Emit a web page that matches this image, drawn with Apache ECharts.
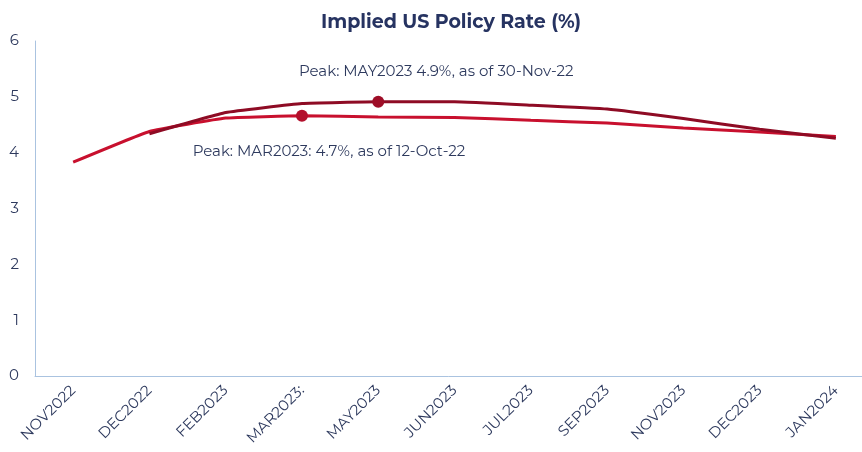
<!DOCTYPE html>
<html>
<head>
<meta charset="utf-8">
<script src="https://cdn.jsdelivr.net/npm/echarts@6/dist/echarts.min.js"></script>
<style>
  html, body { margin: 0; padding: 0; background: #fff; }
  #chart { width: 862px; height: 452px; }
</style>
</head>
<body>
<div id="chart"></div>
<script>
const categories = ['NOV2022', 'DEC2022', 'FEB2023', 'MAR2023:', 'MAY2023', 'JUN2023',
  'JUL2023', 'SEP2023', 'NOV2023', 'DEC2023', 'JAN2024'];

// implied policy rate as of 12-Oct-22
const asOfOct = [3.83, 4.38, 4.62, 4.66, 4.64, 4.63, 4.58, 4.53, 4.44, 4.37, 4.29];
// implied policy rate as of 30-Nov-22 (starts at DEC2022)
const asOfNov = [null, 4.34, 4.72, 4.88, 4.91, 4.91, 4.85, 4.78, 4.61, 4.42, 4.26];

const octPeakIdx = 3;
const novPeakIdx = 4;
const octPeakText = 'Peak: MAR2023: 4.7%, as of 12-Oct-22';
const novPeakText = 'Peak: MAY2023 4.9%, as of 30-Nov-22';

const textColor = '#2e3a5e';
const font = 'Montserrat, "Open Sans", sans-serif';

function withPeak(values, idx, text, color, offset) {
  return values.map((v, i) => {
    if (i !== idx) return v;
    return {
      value: v,
      symbol: 'circle',
      symbolSize: 12,
      itemStyle: { color: color },
      label: {
        show: true,
        formatter: text,
        position: 'inside',
        offset: offset,
        color: textColor,
        fontSize: 15,
        fontFamily: font
      }
    };
  });
}

const option = {
  animation: false,
  title: {
    text: 'Implied US Policy Rate (%)',
    left: 446,
    textAlign: 'center',
    top: 8,
    textStyle: { color: '#263361', fontSize: 19, fontWeight: 'bold', fontFamily: font }
  },
  // plot runs a little past the right edge so the last category sits near 836px
  grid: { left: 35, right: -12, top: 41, bottom: 76, containLabel: false, outerBoundsMode: 'none' },
  xAxis: {
    type: 'category',
    data: categories,
    boundaryGap: true,
    axisLine: { lineStyle: { color: '#aac3e0', width: 1 } },
    axisTick: { show: false },
    axisLabel: { rotate: 45, interval: 0, color: textColor, fontSize: 15, fontFamily: font, margin: 12 }
  },
  yAxis: {
    type: 'value',
    min: 0,
    max: 6,
    interval: 1,
    axisLine: { show: true, lineStyle: { color: '#aac3e0', width: 1 } },
    axisTick: { show: false },
    splitLine: { show: false },
    axisLabel: { color: textColor, fontSize: 15, fontFamily: font, margin: 16 }
  },
  series: [
    {
      name: '12-Oct-22',
      type: 'line',
      smooth: 0.1,
      showSymbol: true,
      symbol: 'none',
      lineStyle: { color: '#c8102e', width: 3 },
      itemStyle: { color: '#c8102e' },
      data: withPeak(asOfOct, octPeakIdx, octPeakText, '#b3102c', [27, 36])
    },
    {
      name: '30-Nov-22',
      type: 'line',
      smooth: 0.1,
      showSymbol: true,
      symbol: 'none',
      connectNulls: false,
      lineStyle: { color: '#8e0b24', width: 3 },
      itemStyle: { color: '#8e0b24' },
      data: withPeak(asOfNov, novPeakIdx, novPeakText, '#9e0d27', [58, -30])
    }
  ]
};

const chart = echarts.init(document.getElementById('chart'));
chart.setOption(option);
</script>
</body>
</html>
